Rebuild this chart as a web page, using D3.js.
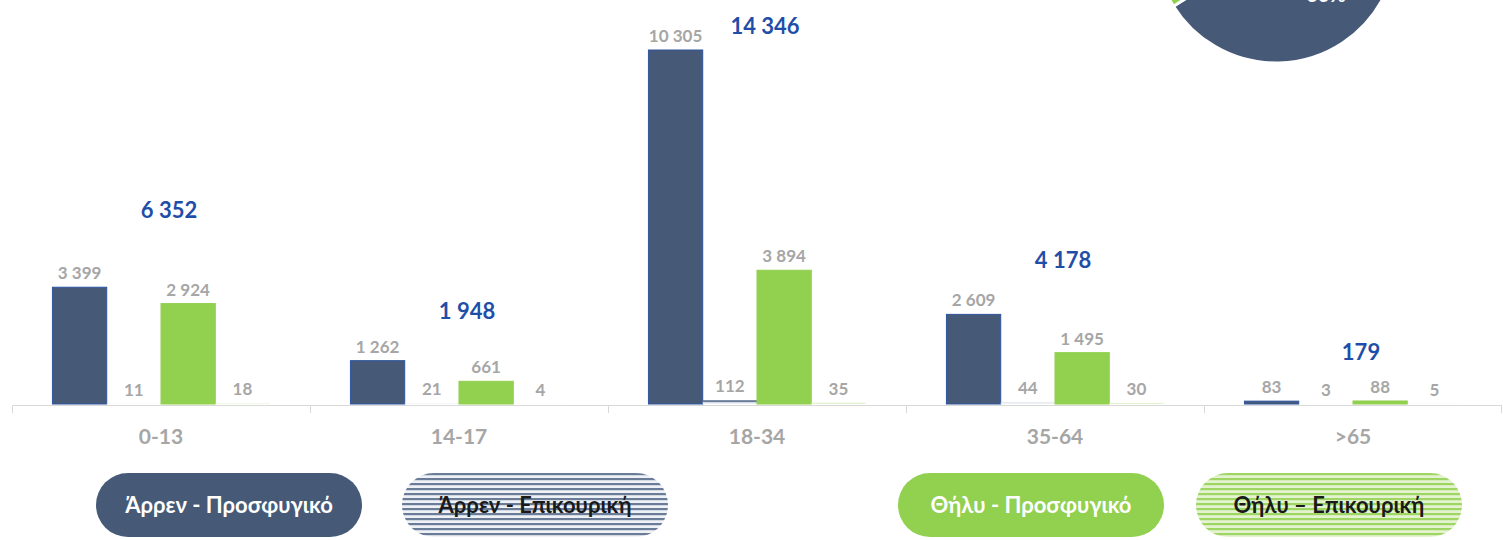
<!DOCTYPE html>
<html>
<head>
<meta charset="utf-8">
<script src="https://cdnjs.cloudflare.com/ajax/libs/d3/7.8.5/d3.min.js"></script>
<style>
  body { margin: 0; background: #fff; }
  svg { display: block; font-family: Lato, "Open Sans", sans-serif; }
</style>
</head>
<body>
<script>
// age groups
var categories = ["0-13", "14-17", "18-34", "35-64", ">65"];
var seriesNames = ["Άρρεν - Προσφυγικό", "Άρρεν - Επικουρική", "Θήλυ - Προσφυγικό", "Θήλυ – Επικουρική"];
var maleRefugee   = [3399, 1262, 10305, 2609, 83];
var maleAux       = [11, 21, 112, 44, 3];
var femaleRefugee = [2924, 661, 3894, 1495, 88];
var femaleAux     = [18, 4, 35, 30, 5];
var totals        = [6352, 1948, 14346, 4178, 179];

var width = 1503, height = 540;
var blue = "#465a78", green = "#92d050";
var gray = "#a6a6a6", totalBlue = "#1f4ea8";

var svg = d3.select("body").append("svg")
    .attr("width", width)
    .attr("height", height);

// stripe patterns for the "Επικουρική" series
var defs = svg.append("defs");
function stripes(id, dark, light) {
  var p = defs.append("pattern")
      .attr("id", id)
      .attr("patternUnits", "userSpaceOnUse")
      .attr("width", 8).attr("height", 5);
  p.append("rect").attr("width", 8).attr("height", 5).attr("fill", light);
  p.append("rect").attr("width", 8).attr("height", 2.2).attr("fill", dark);
}
stripes("stripeBlue", "#6a7c98", "#eef1f5");
stripes("stripeGreen", "#9fd562", "#e3f3d0");

var fills = [blue, "url(#stripeBlue)", green, "url(#stripeGreen)"];
var strokes = ["#2e54a0", "none", green, "none"];
var data = [maleRefugee, maleAux, femaleRefugee, femaleAux];

var baseY = 404;
var x = d3.scaleBand().domain(categories).range([12, 1502]);
var x1 = d3.scaleBand().domain(d3.range(4)).range([0, x.bandwidth()]).paddingOuter(0.745);
var y = d3.scaleLinear().domain([0, 10305]).range([baseY, 50]);
// totals sit on their own (secondary) scale
var y2 = d3.scaleLinear().domain([0, 14346]).range([baseY - 40, 34]);

// pie (male vs female share), cut by the top edge
var maleTotal = d3.sum(maleRefugee) + d3.sum(maleAux);
var femaleTotal = d3.sum(femaleRefugee) + d3.sum(femaleAux);
var pie = d3.pie().sort(null).value(function(d) { return d; });
var arc = d3.arc().innerRadius(0).outerRadius(121);
var pieG = svg.append("g").attr("transform", "translate(1276,-58)");
pieG.selectAll("path")
    .data(pie([maleTotal, femaleTotal]))
  .enter().append("path")
    .attr("d", arc)
    .attr("fill", function(d, i) { return i === 0 ? blue : green; })
    .attr("stroke", "#fff")
    .attr("stroke-width", 3);
pieG.append("text")
    .attr("x", 50).attr("y", 60)
    .attr("text-anchor", "middle")
    .attr("fill", "#fff")
    .attr("font-size", 20).attr("font-weight", 700)
    .text(Math.round(maleTotal / (maleTotal + femaleTotal) * 100) + "%");

// axis
var axis = svg.append("g");
axis.append("line")
    .attr("x1", 12).attr("x2", 1502)
    .attr("y1", baseY + 1.5).attr("y2", baseY + 1.5)
    .attr("stroke", "#d9d9d9").attr("stroke-width", 1);
axis.selectAll("line.tick")
    .data(categories.concat(["end"]))
  .enter().append("line")
    .attr("class", "tick")
    .attr("x1", function(d, i) { return i < categories.length ? x(d) + 0.5 : 1501.5; })
    .attr("x2", function(d, i) { return i < categories.length ? x(d) + 0.5 : 1501.5; })
    .attr("y1", baseY + 1.5).attr("y2", baseY + 9)
    .attr("stroke", "#d9d9d9");
axis.selectAll("text")
    .data(categories)
  .enter().append("text")
    .attr("x", function(d) { return x(d) + x.bandwidth() / 2; })
    .attr("y", 444)
    .attr("text-anchor", "middle")
    .attr("fill", gray)
    .attr("font-size", 21).attr("font-weight", 700)
    .text(function(d) { return d; });

function fmt(v) {
  return d3.format(",")(v).replace(/,/g, " ");
}

// bars
data.forEach(function(vals, s) {
  var g = svg.append("g");
  g.selectAll("rect")
      .data(vals)
    .enter().append("rect")
      .attr("x", function(d, i) { return x(categories[i]) + x1(s); })
      .attr("y", function(d) { return y(d); })
      .attr("width", x1.bandwidth())
      .attr("height", function(d) { return baseY - y(d); })
      .attr("fill", fills[s])
      .attr("stroke", strokes[s])
      .attr("stroke-width", 1);
  g.selectAll("text")
      .data(vals)
    .enter().append("text")
      .attr("x", function(d, i) { return x(categories[i]) + x1(s) + x1.bandwidth() / 2; })
      .attr("y", function(d) { return y(d) - 8; })
      .attr("text-anchor", "middle")
      .attr("fill", gray)
      .attr("font-size", 17).attr("font-weight", 700)
      .text(fmt);
});

// totals
svg.append("g").selectAll("text")
    .data(totals)
  .enter().append("text")
    .attr("x", function(d, i) { return x(categories[i]) + x.bandwidth() / 2 + 8; })
    .attr("y", function(d) { return y2(d); })
    .attr("text-anchor", "middle")
    .attr("fill", totalBlue)
    .attr("font-size", 22).attr("font-weight", 700)
    .text(fmt);

// legend pills
var legendX = [96, 402, 898, 1196];
var textCol = ["#fff", "#1a1a1a", "#fff", "#1a1a1a"];
var leg = svg.append("g").selectAll("g")
    .data(seriesNames)
  .enter().append("g")
    .attr("transform", function(d, i) { return "translate(" + legendX[i] + ",473)"; });
leg.append("rect")
    .attr("width", 266).attr("height", 64)
    .attr("rx", 32).attr("ry", 32)
    .attr("fill", function(d, i) { return fills[i]; });
leg.append("text")
    .attr("x", 133).attr("y", 40)
    .attr("text-anchor", "middle")
    .attr("fill", function(d, i) { return textCol[i]; })
    .attr("font-size", 22).attr("font-weight", 700)
    .text(function(d) { return d; });
</script>
</body>
</html>
